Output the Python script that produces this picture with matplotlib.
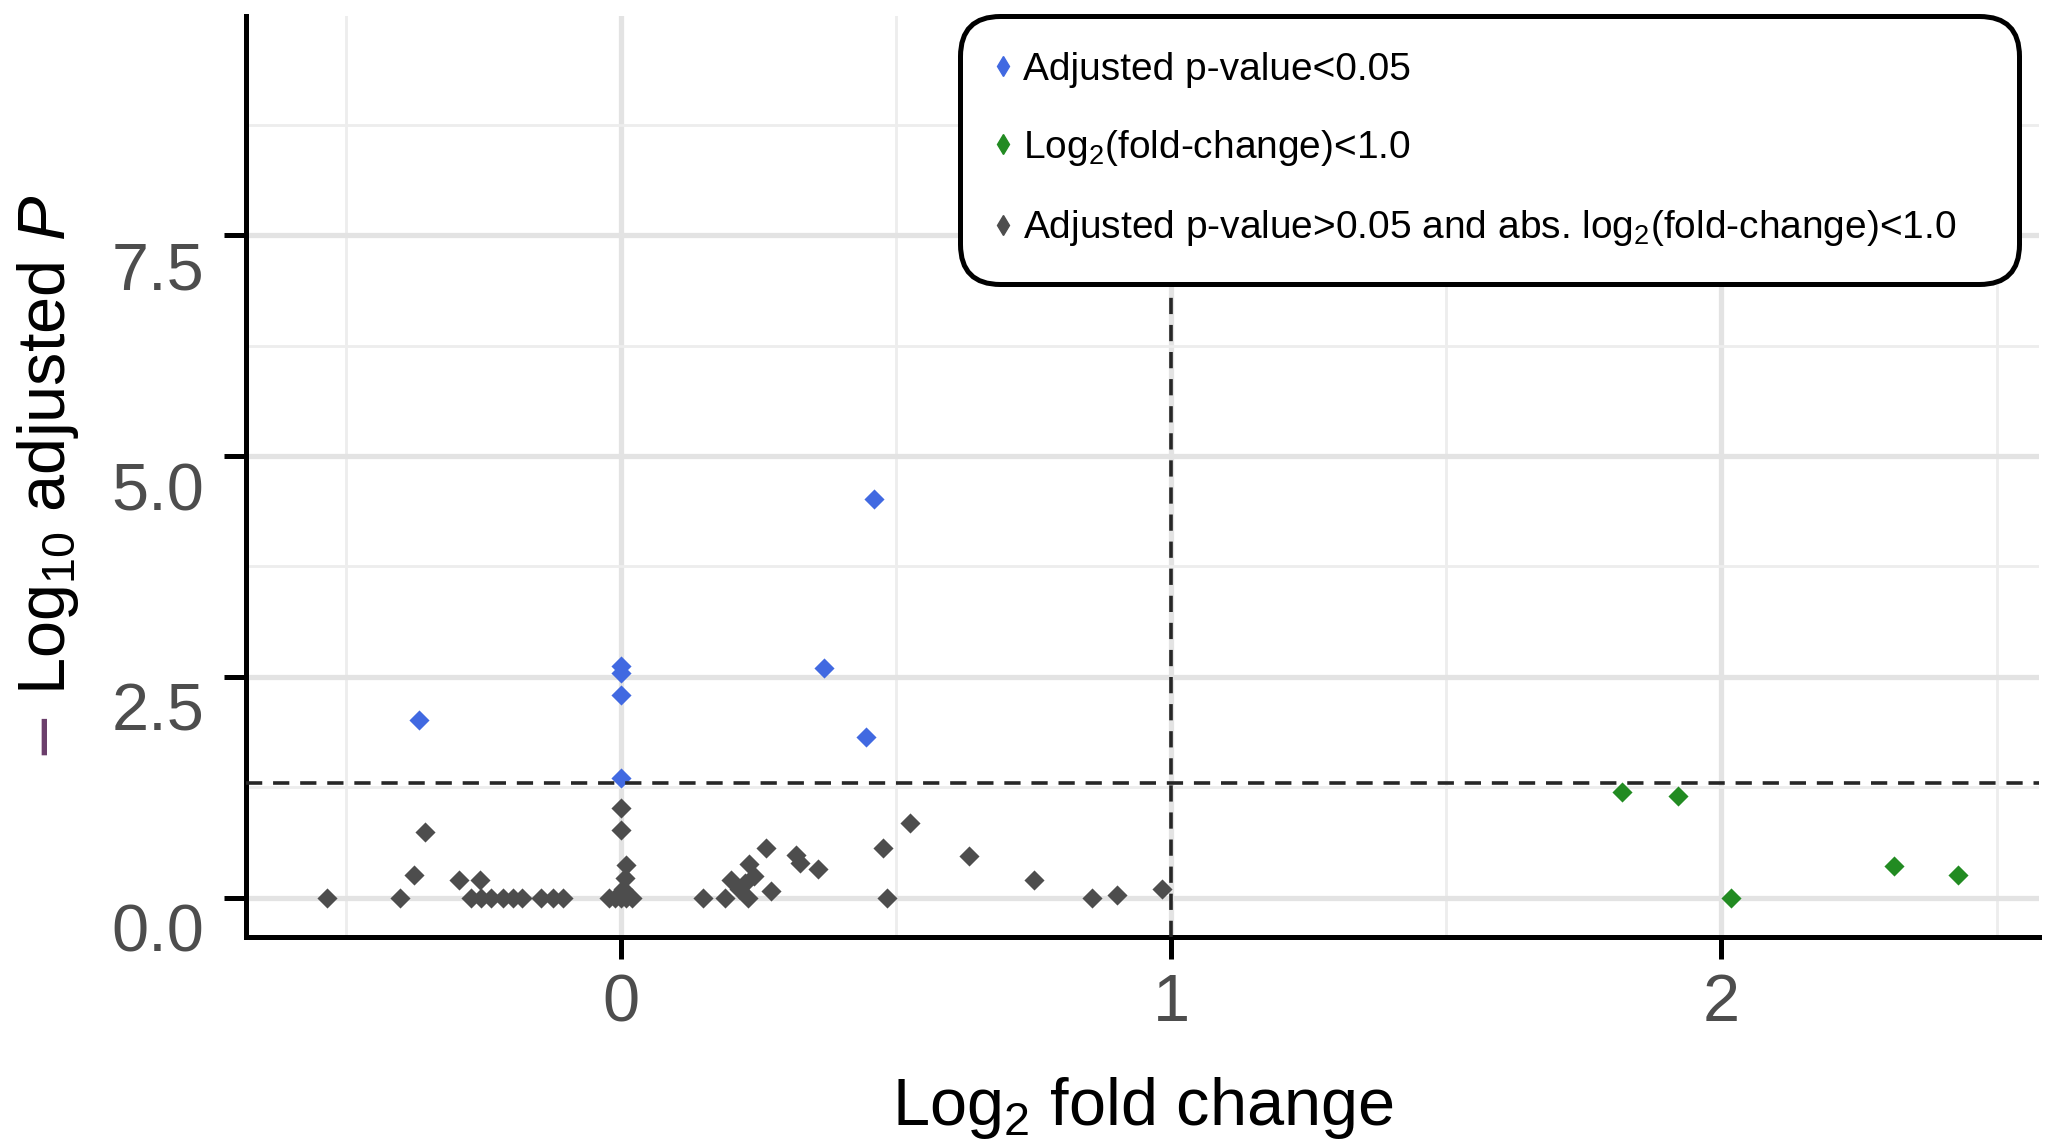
import matplotlib
matplotlib.use("Agg")
from matplotlib import pyplot as plt
from matplotlib import transforms, font_manager
from matplotlib.font_manager import FontProperties
from matplotlib.lines import Line2D
from matplotlib.ticker import FixedLocator

# adjusted p-value < 0.05
sig_lfc = [-0.367, 0.0, 0.0, 0.0, 0.0, 0.369, 0.445, 0.460]
sig_logp = [2.01, 2.62, 2.54, 2.30, 1.36, 2.60, 1.82, 4.51]

# fold change only
fc_lfc = [1.819, 1.921, 2.018, 2.314, 2.429]
fc_logp = [1.20, 1.15, 0.0, 0.36, 0.26]

# not significant
ns_lfc = [-0.534, -0.402, -0.376, -0.356, -0.295, -0.256,
          -0.272, -0.255, -0.237, -0.215, -0.197, -0.180, -0.146, -0.123, -0.106,
          0.0, 0.0, 0.010, 0.007, 0.004, -0.022, -0.010, 0.0, 0.010, 0.020,
          0.150, 0.190, 0.200, 0.215, 0.225, 0.231, 0.233, 0.241, 0.264, 0.272,
          0.318, 0.326, 0.359,
          0.477, 0.484, 0.526, 0.632, 0.750, 0.856, 0.902, 0.983]
ns_logp = [0.0, 0.0, 0.26, 0.75, 0.20, 0.20,
           0.0, 0.0, 0.0, 0.0, 0.0, 0.0, 0.0, 0.0, 0.0,
           1.02, 0.77, 0.37, 0.22, 0.10, 0.0, 0.0, 0.0, 0.0, 0.0,
           0.0, 0.0, 0.20, 0.10, 0.17, 0.0, 0.38, 0.25, 0.56, 0.08,
           0.48, 0.39, 0.33,
           0.56, 0.0, 0.85, 0.47, 0.20, 0.0, 0.03, 0.10]

p_cutoff = 1.301   # -log10(0.05)
fc_cutoff = 1.0

x_ticks = [0, 1, 2]
y_ticks = [0.0, 2.5, 5.0, 7.5]
y_ticklabels = ["0.0", "2.5", "5.0", "7.5"]

legend_labels = ["Adjusted p-value<0.05",
                 r"Log$_2$(fold-change)<1.0",
                 r"Adjusted p-value>0.05 and abs. log$_2$(fold-change)<1.0"]
colors = {"ns": "#4D4D4D", "fc": "#228B22", "sig": "#4169E1"}

plt.rcParams["font.family"] = "Liberation Sans"
plt.rcParams["mathtext.fontset"] = "custom"
plt.rcParams["mathtext.rm"] = "Liberation Sans"
plt.rcParams["mathtext.it"] = "Liberation Sans:italic"
plt.rcParams["mathtext.bf"] = "Liberation Sans:bold"

# the legend text in the original is a condensed face
try:
    font_manager.findfont("Liberation Sans Narrow", fallback_to_default=False)
    legend_font, legend_size = "Liberation Sans Narrow", 33
except ValueError:
    legend_font, legend_size = "Liberation Sans", 28

fig = plt.figure(figsize=(20.49, 11.44), dpi=100)
ax = fig.add_axes([0.1199, 0.1809, 0.8752, 0.8051])

ax.scatter(ns_lfc, ns_logp, marker="D", s=105, color=colors["ns"], linewidths=0, zorder=2)
ax.scatter(fc_lfc, fc_logp, marker="D", s=105, color=colors["fc"], linewidths=0, zorder=2)
ax.scatter(sig_lfc, sig_logp, marker="D", s=105, color=colors["sig"], linewidths=0, zorder=2)

ax.axhline(p_cutoff, color="#262626", lw=2.6, dashes=(4.5, 3.0), zorder=3)
ax.axvline(fc_cutoff, color="#262626", lw=2.6, dashes=(4.5, 3.0), zorder=3)

ax.set_xlim(-0.682, 2.577)
ax.set_ylim(-0.444, 9.98)
ax.set_xticks(x_ticks)
ax.set_yticks(y_ticks)
ax.set_yticklabels(y_ticklabels)
ax.xaxis.set_minor_locator(FixedLocator([-0.5, 0.5, 1.5, 2.5]))
ax.yaxis.set_minor_locator(FixedLocator([1.25, 3.75, 6.25, 8.75]))

ax.grid(which="major", color="#E3E3E3", linewidth=3.8)
ax.grid(which="minor", color="#EDEDED", linewidth=2.0)
ax.set_axisbelow(True)

for side in ["top", "right"]:
    ax.spines[side].set_visible(False)
for side in ["left", "bottom"]:
    ax.spines[side].set_linewidth(3.6)
    ax.spines[side].set_color("black")

ax.tick_params(axis="both", which="major", length=16, width=3.6, color="black",
               labelsize=48, labelcolor="#4D4D4D")
ax.tick_params(axis="y", which="major", pad=14)
ax.tick_params(axis="x", which="major", pad=10)
ax.tick_params(which="minor", length=0)

# y tick labels sit a little below their ticks in the original
shift = transforms.ScaledTranslation(0, -0.30, fig.dpi_scale_trans)
for tick in ax.yaxis.get_major_ticks():
    tick.label1.set_transform(tick.label1.get_transform() + shift)

ax.set_xlabel(r"Log$_2$ fold change", fontsize=48, color="black")
ax.xaxis.set_label_coords(0.5, -0.150)

fig.text(65 / 2049, 1 - 445 / 1144, r"Log$_{10}$ adjusted $\mathit{P}$", fontsize=48,
         rotation=90, rotation_mode="anchor", ha="center", va="baseline", color="black")
fig.text(66 / 2049, 1 - 733 / 1144, "\u2212", fontsize=54,
         rotation=90, rotation_mode="anchor", ha="center", va="baseline", color="#6A3D6A")

# legend spacing worked out in pixels, then turned into font-size units
em = legend_size * 100 / 72
handles = [Line2D([], [], marker="d", ls="none", color=colors["sig"], markersize=10),
           Line2D([], [], marker="d", ls="none", color=colors["fc"], markersize=10),
           Line2D([], [], marker="d", ls="none", color=colors["ns"], markersize=10)]
leg = ax.legend(handles, legend_labels, loc="upper left",
                bbox_to_anchor=(960 / 2049, 1 - 278 / 1144, 1059 / 2049, 262 / 1144),
                bbox_transform=fig.transFigure, mode="expand", borderaxespad=0,
                prop=FontProperties(family=legend_font, size=legend_size),
                frameon=True, fancybox=True, framealpha=1, edgecolor="black",
                borderpad=36 / em, labelspacing=(79 - em) / em,
                handlelength=14 / em, handletextpad=13 / em)
leg.get_frame().set_linewidth(3.6)
leg.get_frame().set_boxstyle("round", pad=0, rounding_size=40 / em)
leg.set_zorder(5)

fig.savefig("out.png", dpi=100, facecolor="white")
